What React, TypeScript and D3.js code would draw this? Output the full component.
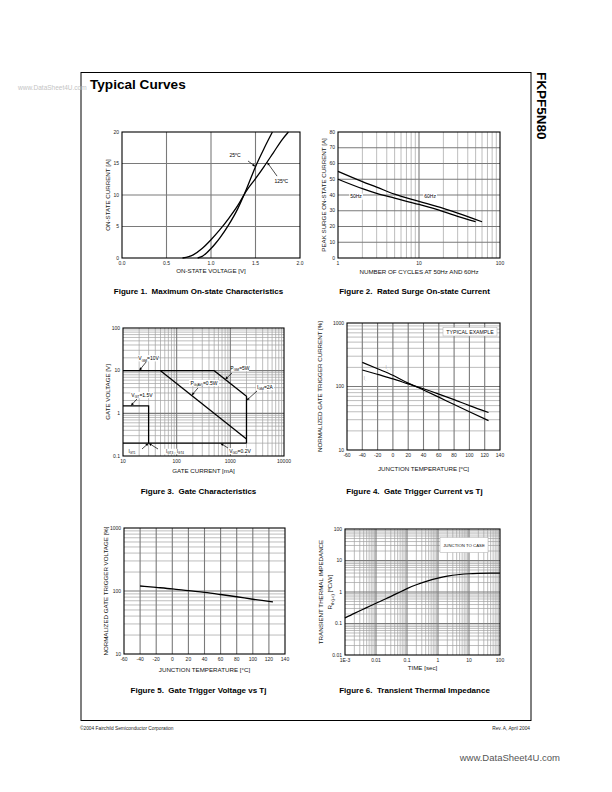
import React from 'react';
import * as d3 from 'd3';

const FONT = "'Liberation Sans', Arial, Helvetica, sans-serif";

// ---------- Figure 1: Maximum On-state Characteristics ----------
const fig1V25 = [0.85, 0.9, 0.95, 1.0, 1.05, 1.1, 1.2, 1.3, 1.4, 1.5, 1.6, 1.69];
const fig1I25 = [0, 0.25, 0.8, 1.5, 2.3, 3.2, 5.3, 7.8, 11.0, 14.5, 17.5, 20];
const fig1V125 = [0.68, 0.75, 0.8, 0.9, 1.0, 1.1, 1.2, 1.3, 1.4, 1.5, 1.6, 1.7, 1.8, 1.87];
const fig1I125 = [0, 0.2, 0.5, 1.5, 2.9, 4.5, 6.3, 8.3, 10.7, 12.6, 14.6, 16.7, 18.8, 20];
const fig1XTicks = [0, 0.5, 1, 1.5, 2];
const fig1XLabels = ['0.0', '0.5', '1.0', '1.5', '2.0'];
const fig1YTicks = [0, 5, 10, 15, 20];

// ---------- Figure 2: Rated Surge On-state Current ----------
const fig2N60 = [1, 2, 3, 5, 10, 20, 30, 60];
const fig2A60 = [55, 48.5, 45, 40.5, 36, 31.5, 28.5, 23];
const fig2N50 = [1, 2, 3, 5, 10, 20, 30, 50];
const fig2A50 = [50, 44, 41, 38, 34, 29.5, 26.5, 23];
const fig2XTicks = [1, 10, 100];
const fig2YTicks = [0, 10, 20, 30, 40, 50, 60, 70, 80];

// ---------- Figure 3: Gate Characteristics ----------
const fig3Boundary: [number, number][] = [[10, 10], [500, 10], [2000, 2.5], [2000, 0.2]];
const fig3Pavg: [number, number][] = [[50, 10], [2000, 0.25]];
const fig3Vgd: [number, number][] = [[10, 0.2], [2000, 0.2]];
const fig3Vgt: [number, number][] = [[10, 1.5], [30, 1.5], [30, 0.2]];
const fig3XTicks = [10, 100, 1000, 10000];
const fig3YTicks = [0.1, 1, 10, 100];

// ---------- Figure 4: Gate Trigger Current vs Tj ----------
const fig4T = [-40, -20, 0, 20, 40, 60, 80, 100, 125];
const fig4IA = [240, 190, 150, 113, 88, 68, 52, 40, 29];
const fig4IB = [182, 155, 132, 110, 92, 76, 62, 50, 39];
const tempTicks = [-60, -40, -20, 0, 20, 40, 60, 80, 100, 120, 140];
const pctTicks = [10, 100, 1000];

// ---------- Figure 5: Gate Trigger Voltage vs Tj ----------
const fig5T = [-40, -20, 0, 20, 40, 60, 80, 100, 125];
const fig5V = [120, 114, 108, 101, 95, 88, 81, 74, 67];

// ---------- Figure 6: Transient Thermal Impedance ----------
const fig6Time = [0.001, 0.002, 0.005, 0.01, 0.02, 0.05, 0.1, 0.2, 0.5, 1, 2, 5, 10, 20, 50, 100];
const fig6Z = [0.15, 0.21, 0.32, 0.44, 0.6, 0.92, 1.28, 1.7, 2.3, 2.75, 3.2, 3.6, 3.8, 3.9, 3.95, 3.95];
const fig6XTicks = [0.001, 0.01, 0.1, 1, 10, 100];
const fig6XLabels = ['1E-3', '0.01', '0.1', '1', '10', '100'];
const fig6YTicks = [0.01, 0.1, 1, 10, 100];
const fig6YLabels = ['0.01', '0.1', '1', '10', '100'];

type Seg = [string, string];

function segWidth(segs: Seg[], size: number) {
  return segs.reduce((w, [t, k]) => w + t.length * size * (k === 'n' ? 0.56 : 0.42), 0);
}

function Rich({ x, y, segs, size, anchor = 'middle', fill = '#000', weight = 'normal', transform }: any) {
  let shift = 0;
  return (
    <text x={x} y={y} fontSize={size} textAnchor={anchor} fill={fill} fontFamily={FONT} fontWeight={weight} transform={transform}>
      {segs.map(([t, k]: Seg, i: number) => {
        const target = k === 'sub' ? size * 0.3 : k === 'sup' ? -size * 0.4 : 0;
        const dy = target - shift;
        shift = target;
        return (
          <tspan key={i} dy={dy} fontSize={k === 'n' ? size : size * 0.68}>
            {t}
          </tspan>
        );
      })}
    </text>
  );
}

function Arrow({ x1, y1, x2, y2 }: any) {
  const a = Math.atan2(y2 - y1, x2 - x1);
  const L = 3.2, W = 1.3;
  const bx = x2 - L * Math.cos(a), by = y2 - L * Math.sin(a);
  const p = [
    [x2, y2],
    [bx - W * Math.sin(a), by + W * Math.cos(a)],
    [bx + W * Math.sin(a), by - W * Math.cos(a)],
  ];
  return (
    <g>
      <line x1={x1} y1={y1} x2={bx} y2={by} stroke="#000" strokeWidth={0.7} />
      <polygon points={p.map((q) => q.join(',')).join(' ')} fill="#000" />
    </g>
  );
}

function Note({ x, y, segs, size = 5, arrow, bg = true, fill = '#000' }: any) {
  const w = segWidth(segs, size);
  return (
    <g>
      {bg && <rect x={x - w / 2 - 1.2} y={y - size * 0.62} width={w + 2.4} height={size * 1.25} fill="#fff" />}
      <Rich x={x} y={y + size * 0.35} segs={segs} size={size} fill={fill} />
      {arrow && <Arrow {...arrow} />}
    </g>
  );
}

function logLines(s: any) {
  const [a, b] = s.domain();
  const t: number[] = s.ticks().filter((v: number) => v > a * 1.0001 && v < b / 1.0001);
  const isMaj = (v: number) => Math.abs(Math.log10(v) - Math.round(Math.log10(v))) < 1e-6;
  return { minor: t.filter((v) => !isMaj(v)), major: t.filter(isMaj) };
}

function Panel({ box, xs, ys, vMinor = [], vMajor = [], hMinor = [], hMajor = [], xTicks, xLabels, yTicks, yLabels, xTitle, yTitle, yTitleX, xTitleY, children }: any) {
  const tick = 5;
  return (
    <g>
      <rect x={box.l} y={box.t} width={box.r - box.l} height={box.b - box.t} fill="#fff" />
      {vMinor.map((v: number, i: number) => (
        <line key={'vm' + i} x1={xs(v)} x2={xs(v)} y1={box.t} y2={box.b} stroke="#a0a0a0" strokeWidth={0.7} />
      ))}
      {hMinor.map((v: number, i: number) => (
        <line key={'hm' + i} y1={ys(v)} y2={ys(v)} x1={box.l} x2={box.r} stroke="#a0a0a0" strokeWidth={0.7} />
      ))}
      {vMajor.map((v: number, i: number) => (
        <line key={'vM' + i} x1={xs(v)} x2={xs(v)} y1={box.t} y2={box.b} stroke="#7a7a7a" strokeWidth={1.1} />
      ))}
      {hMajor.map((v: number, i: number) => (
        <line key={'hM' + i} y1={ys(v)} y2={ys(v)} x1={box.l} x2={box.r} stroke="#7a7a7a" strokeWidth={1.1} />
      ))}
      {children}
      <rect x={box.l} y={box.t} width={box.r - box.l} height={box.b - box.t} fill="none" stroke="#000" strokeWidth={1.1} />
      {xTicks.map((v: number, i: number) => (
        <text key={'xt' + i} x={xs(v)} y={box.b + 7} fontSize={tick} textAnchor="middle" fontFamily={FONT} fill="#222">
          {xLabels ? xLabels[i] : String(v)}
        </text>
      ))}
      {yTicks.map((v: number, i: number) => (
        <text key={'yt' + i} x={box.l - 3} y={ys(v) + 1.7} fontSize={tick} textAnchor="end" fontFamily={FONT} fill="#222">
          {yLabels ? yLabels[i] : String(v)}
        </text>
      ))}
      {xTitle && (
        <Rich x={(box.l + box.r) / 2} y={xTitleY} segs={xTitle} size={6.2} fill="#111" />
      )}
      {yTitle && (
        <Rich x={0} y={0} segs={yTitle} size={6.2} fill="#111" transform={`translate(${yTitleX},${(box.t + box.b) / 2}) rotate(-90)`} />
      )}
    </g>
  );
}

function Caption({ x, y, text }: any) {
  return (
    <text x={x} y={y} fontSize={8} fontWeight="bold" textAnchor="middle" fontFamily={FONT} fill="#000" style={{ whiteSpace: 'pre' }}>
      {text}
    </text>
  );
}

export default function App() {
  const curveLine = (xs: any, ys: any) =>
    d3.line<[number, number]>().x((d) => xs(d[0])).y((d) => ys(d[1])).curve(d3.curveMonotoneX);
  const straight = (xs: any, ys: any) => d3.line<[number, number]>().x((d) => xs(d[0])).y((d) => ys(d[1]));

  // Figure 1
  const b1 = { l: 122, r: 300, t: 132, b: 258 };
  const x1 = d3.scaleLinear().domain([0, 2]).range([b1.l, b1.r]);
  const y1 = d3.scaleLinear().domain([0, 20]).range([b1.b, b1.t]);
  const l1 = curveLine(x1, y1);
  const f1a = fig1V25.map((v, i) => [v, fig1I25[i]] as [number, number]);
  const f1b = fig1V125.map((v, i) => [v, fig1I125[i]] as [number, number]);

  // Figure 2
  const b2 = { l: 338, r: 500, t: 132, b: 258 };
  const x2 = d3.scaleLog().domain([1, 100]).range([b2.l, b2.r]);
  const y2 = d3.scaleLinear().domain([0, 80]).range([b2.b, b2.t]);
  const g2 = logLines(x2);
  const l2 = curveLine(x2, y2);
  const f2a = fig2N60.map((v, i) => [v, fig2A60[i]] as [number, number]);
  const f2b = fig2N50.map((v, i) => [v, fig2A50[i]] as [number, number]);

  // Figure 3
  const b3 = { l: 123, r: 284, t: 328, b: 456 };
  const x3 = d3.scaleLog().domain([10, 10000]).range([b3.l, b3.r]);
  const y3 = d3.scaleLog().domain([0.1, 100]).range([b3.b, b3.t]);
  const g3x = logLines(x3);
  const g3y = logLines(y3);
  const l3 = straight(x3, y3);

  // Figure 4
  const b4 = { l: 347, r: 500, t: 323, b: 450 };
  const x4 = d3.scaleLinear().domain([-60, 140]).range([b4.l, b4.r]);
  const y4 = d3.scaleLog().domain([10, 1000]).range([b4.b, b4.t]);
  const g4y = logLines(y4);
  const l4 = curveLine(x4, y4);

  // Figure 5
  const b5 = { l: 124, r: 285, t: 528, b: 654 };
  const x5 = d3.scaleLinear().domain([-60, 140]).range([b5.l, b5.r]);
  const y5 = d3.scaleLog().domain([10, 1000]).range([b5.b, b5.t]);
  const g5y = logLines(y5);
  const l5 = curveLine(x5, y5);

  // Figure 6
  const b6 = { l: 345, r: 500, t: 529, b: 655 };
  const x6 = d3.scaleLog().domain([0.001, 100]).range([b6.l, b6.r]);
  const y6 = d3.scaleLog().domain([0.01, 100]).range([b6.b, b6.t]);
  const g6x = logLines(x6);
  const g6y = logLines(y6);
  const l6 = curveLine(x6, y6);

  const tempInner = tempTicks.slice(1, -1);
  const deg = '\u00b0';

  return (
    <svg width={612} height={792} style={{ position: 'absolute', left: 0, top: 0, background: '#fff' }} xmlns="http://www.w3.org/2000/svg">
      <rect x={0} y={0} width={612} height={792} fill="#fff" />
      {/* page frame */}
      <rect x={81} y={72.5} width={450} height={648} fill="none" stroke="#000" strokeWidth={1} />
      <text x={18} y={89.5} fontSize={6.5} fontFamily={FONT} fill="#c4c4c4">www.DataSheet4U.com</text>
      <text x={90} y={89} fontSize={13.6} fontWeight="bold" fontFamily={FONT} fill="#000">Typical Curves</text>
      <text x={0} y={0} fontSize={13.5} fontWeight="bold" fontFamily={FONT} fill="#000" transform="translate(537,72) rotate(90)">FKPF5N80</text>

      {/* Figure 1 */}
      <Panel box={b1} xs={x1} ys={y1} vMajor={[0.5, 1, 1.5]} hMajor={[5, 10, 15]}
        xTicks={fig1XTicks} xLabels={fig1XLabels} yTicks={fig1YTicks}
        xTitle={[['ON-STATE VOLTAGE [V]', 'n']]} xTitleY={273} yTitle={[['ON-STATE CURRENT [A]', 'n']]} yTitleX={110}>
        <path d={l1(f1a) || ''} fill="none" stroke="#000" strokeWidth={1.3} />
        <path d={l1(f1b) || ''} fill="none" stroke="#000" strokeWidth={1.3} />
        <Note x={x1(1.27)} y={y1(16.35)} size={5} bg={false} segs={[['25', 'n'], ['o', 'sup'], ['C', 'n']]}
          arrow={{ x1: x1(1.416), y1: y1(15.4), x2: x1(1.5), y2: y1(14.5) }} />
        <Note x={x1(1.79)} y={y1(12.2)} size={5} bg={false} segs={[['125', 'n'], ['o', 'sup'], ['C', 'n']]}
          arrow={{ x1: x1(1.742), y1: y1(13.0), x2: x1(1.63), y2: y1(15.2) }} />
      </Panel>
      <Caption x={198.5} y={294} text={'Figure 1.  Maximum On-state Characteristics'} />

      {/* Figure 2 */}
      <Panel box={b2} xs={x2} ys={y2} vMinor={g2.minor} vMajor={g2.major} hMajor={fig2YTicks.slice(1, -1)}
        xTicks={fig2XTicks} yTicks={fig2YTicks}
        xTitle={[['NUMBER OF CYCLES AT 50Hz AND 60Hz', 'n']]} xTitleY={274}
        yTitle={[['PEAK SURGE ON-STATE CURRENT [A]', 'n']]} yTitleX={326}>
        <path d={l2(f2a) || ''} fill="none" stroke="#000" strokeWidth={1.3} />
        <path d={l2(f2b) || ''} fill="none" stroke="#000" strokeWidth={1.3} />
        <Note x={x2(1.67)} y={y2(39)} size={5} segs={[['50Hz', 'n']]} />
        <Note x={x2(13.7)} y={y2(39)} size={5} segs={[['60Hz', 'n']]} />
      </Panel>
      <Caption x={414.5} y={294} text={'Figure 2.  Rated Surge On-state Current'} />

      {/* Figure 3 */}
      <Panel box={b3} xs={x3} ys={y3} vMinor={g3x.minor} vMajor={g3x.major} hMinor={g3y.minor} hMajor={g3y.major}
        xTicks={fig3XTicks} yTicks={fig3YTicks}
        xTitle={[['GATE CURRENT [mA]', 'n']]} xTitleY={473}
        yTitle={[['GATE VOLTAGE [V]', 'n']]} yTitleX={110}>
        <path d={l3(fig3Boundary) || ''} fill="none" stroke="#000" strokeWidth={1.3} />
        <path d={l3(fig3Pavg) || ''} fill="none" stroke="#000" strokeWidth={1.3} />
        <path d={l3(fig3Vgd) || ''} fill="none" stroke="#000" strokeWidth={1.3} />
        <path d={l3(fig3Vgt) || ''} fill="none" stroke="#000" strokeWidth={1.3} />
        <Note x={x3(30)} y={y3(19.5)} size={5} segs={[['V', 'n'], ['GM', 'sub'], ['=10V', 'n']]}
          arrow={{ x1: x3(27), y1: y3(16), x2: x3(20), y2: y3(10) }} />
        <Note x={x3(1513)} y={y3(11.5)} size={5} segs={[['P', 'n'], ['GM', 'sub'], ['=5W', 'n']]}
          arrow={{ x1: x3(1074), y1: y3(8.8), x2: x3(800), y2: y3(6.25) }} />
        <Note x={x3(323)} y={y3(5.14)} size={5} segs={[['P', 'n'], ['G(AV)', 'sub'], ['=0.5W', 'n']]}
          arrow={{ x1: x3(249), y1: y3(3.93), x2: x3(190), y2: y3(2.63) }} />
        <Note x={x3(4425)} y={y3(4.14)} size={5} segs={[['I', 'n'], ['GM', 'sub'], ['=2A', 'n']]}
          arrow={{ x1: x3(3140), y1: y3(3.34), x2: x3(2000), y2: y3(2.0) }} />
        <Note x={x3(22.6)} y={y3(2.69)} size={5} segs={[['V', 'n'], ['GT', 'sub'], ['=1.5V', 'n']]}
          arrow={{ x1: x3(18.2), y1: y3(2.17), x2: x3(14), y2: y3(1.5) }} />
        <Note x={x3(1513)} y={y3(0.131)} size={5} segs={[['V', 'n'], ['GD', 'sub'], ['=0.2V', 'n']]}
          arrow={{ x1: x3(904), y1: y3(0.154), x2: x3(650), y2: y3(0.2) }} />
        <Note x={x3(14.7)} y={y3(0.131)} size={4.5} segs={[['I', 'n'], ['GT1', 'sub']]}
          arrow={{ x1: x3(22.6), y1: y3(0.146), x2: x3(30), y2: y3(0.2) }} />
        <Note x={x3(93)} y={y3(0.127)} size={4.5} segs={[['I', 'n'], ['GT3', 'sub'], [' , I', 'n'], ['GT4', 'sub']]}
          arrow={{ x1: x3(44.9), y1: y3(0.146), x2: x3(30), y2: y3(0.2) }} />
      </Panel>
      <Caption x={198.5} y={494} text={'Figure 3.  Gate Characteristics'} />

      {/* Figure 4 */}
      <Panel box={b4} xs={x4} ys={y4} vMajor={tempInner} hMinor={g4y.minor} hMajor={g4y.major}
        xTicks={tempTicks} yTicks={pctTicks}
        xTitle={[['JUNCTION TEMPERATURE [', 'n'], ['o', 'sup'], ['C]', 'n']]} xTitleY={471}
        yTitle={[['NORMALIZED GATE TRIGGER CURRENT [%]', 'n']]} yTitleX={322}>
        <path d={l4(fig4T.map((t, i) => [t, fig4IA[i]] as [number, number])) || ''} fill="none" stroke="#000" strokeWidth={1.2} />
        <path d={l4(fig4T.map((t, i) => [t, fig4IB[i]] as [number, number])) || ''} fill="none" stroke="#000" strokeWidth={1.2} />
        <Note x={x4(-3.8)} y={y4(198)} size={4.5} bg={false} fill="#a8a8a8" segs={[['I', 'n'], ['+', 'sub'], [' , I', 'n'], ['-', 'sub']]} />
        <Note x={x4(-36.5)} y={y4(136)} size={4.5} bg={false} fill="#a8a8a8" segs={[['I', 'n'], ['-', 'sub']]} />
        <rect x={b4.r - 57} y={b4.t + 4.5} width={54} height={8.5} fill="#fff" stroke="#aaa" strokeWidth={0.5} />
        <text x={b4.r - 30} y={b4.t + 10.7} fontSize={5.2} textAnchor="middle" fontFamily={FONT} fill="#111">TYPICAL EXAMPLE</text>
      </Panel>
      <Caption x={414.5} y={494} text={'Figure 4.  Gate Trigger Current vs Tj'} />

      {/* Figure 5 */}
      <Panel box={b5} xs={x5} ys={y5} vMajor={tempInner} hMinor={g5y.minor} hMajor={g5y.major}
        xTicks={tempTicks} yTicks={pctTicks}
        xTitle={[['JUNCTION TEMPERATURE [', 'n'], [deg, 'n'], ['C]', 'n']]} xTitleY={672}
        yTitle={[['NORMALIZED GATE TRIGGER VOLTAGE [%]', 'n']]} yTitleX={108}>
        <path d={l5(fig5T.map((t, i) => [t, fig5V[i]] as [number, number])) || ''} fill="none" stroke="#000" strokeWidth={1.3} />
      </Panel>
      <Caption x={198.5} y={693} text={'Figure 5.  Gate Trigger Voltage vs Tj'} />

      {/* Figure 6 */}
      <Panel box={b6} xs={x6} ys={y6} vMinor={g6x.minor} vMajor={g6x.major} hMinor={g6y.minor} hMajor={g6y.major}
        xTicks={fig6XTicks} xLabels={fig6XLabels} yTicks={fig6YTicks} yLabels={fig6YLabels}
        xTitle={[['TIME [sec]', 'n']]} xTitleY={670}>
        <path d={l6(fig6Time.map((t, i) => [t, fig6Z[i]] as [number, number])) || ''} fill="none" stroke="#000" strokeWidth={1.2} />
        <rect x={b6.r - 60} y={b6.t + 8.5} width={48} height={15} fill="#fff" stroke="#aaa" strokeWidth={0.5} />
        <text x={b6.r - 36} y={b6.t + 17.6} fontSize={4.3} textAnchor="middle" fontFamily={FONT} fill="#111">JUNCTION TO CASE</text>
      </Panel>
      <Rich x={0} y={0} segs={[['TRANSIENT THERMAL IMPEDANCE', 'n']]} size={6.2} fill="#111" transform={`translate(323,${(b6.t + b6.b) / 2}) rotate(-90)`} />
      <Rich x={0} y={0} segs={[['R', 'n'], ['th(j-c)', 'sub'], [' [', 'n'], ['o', 'sup'], ['C/W]', 'n']]} size={6.2} fill="#111" transform={`translate(332,${(b6.t + b6.b) / 2}) rotate(-90)`} />
      <Caption x={414.5} y={693} text={'Figure 6.  Transient Thermal Impedance'} />

      {/* footer */}
      <text x={80} y={730} fontSize={4.8} fontFamily={FONT} fill="#222">{'\u00a92004 Fairchild Semiconductor Corporation'}</text>
      <text x={530} y={730} fontSize={4.8} textAnchor="end" fontFamily={FONT} fill="#222">Rev. A, April 2004</text>
      <text x={560} y={761} fontSize={9.5} textAnchor="end" fontFamily={FONT} fill="#555">www.DataSheet4U.com</text>
    </svg>
  );
}
